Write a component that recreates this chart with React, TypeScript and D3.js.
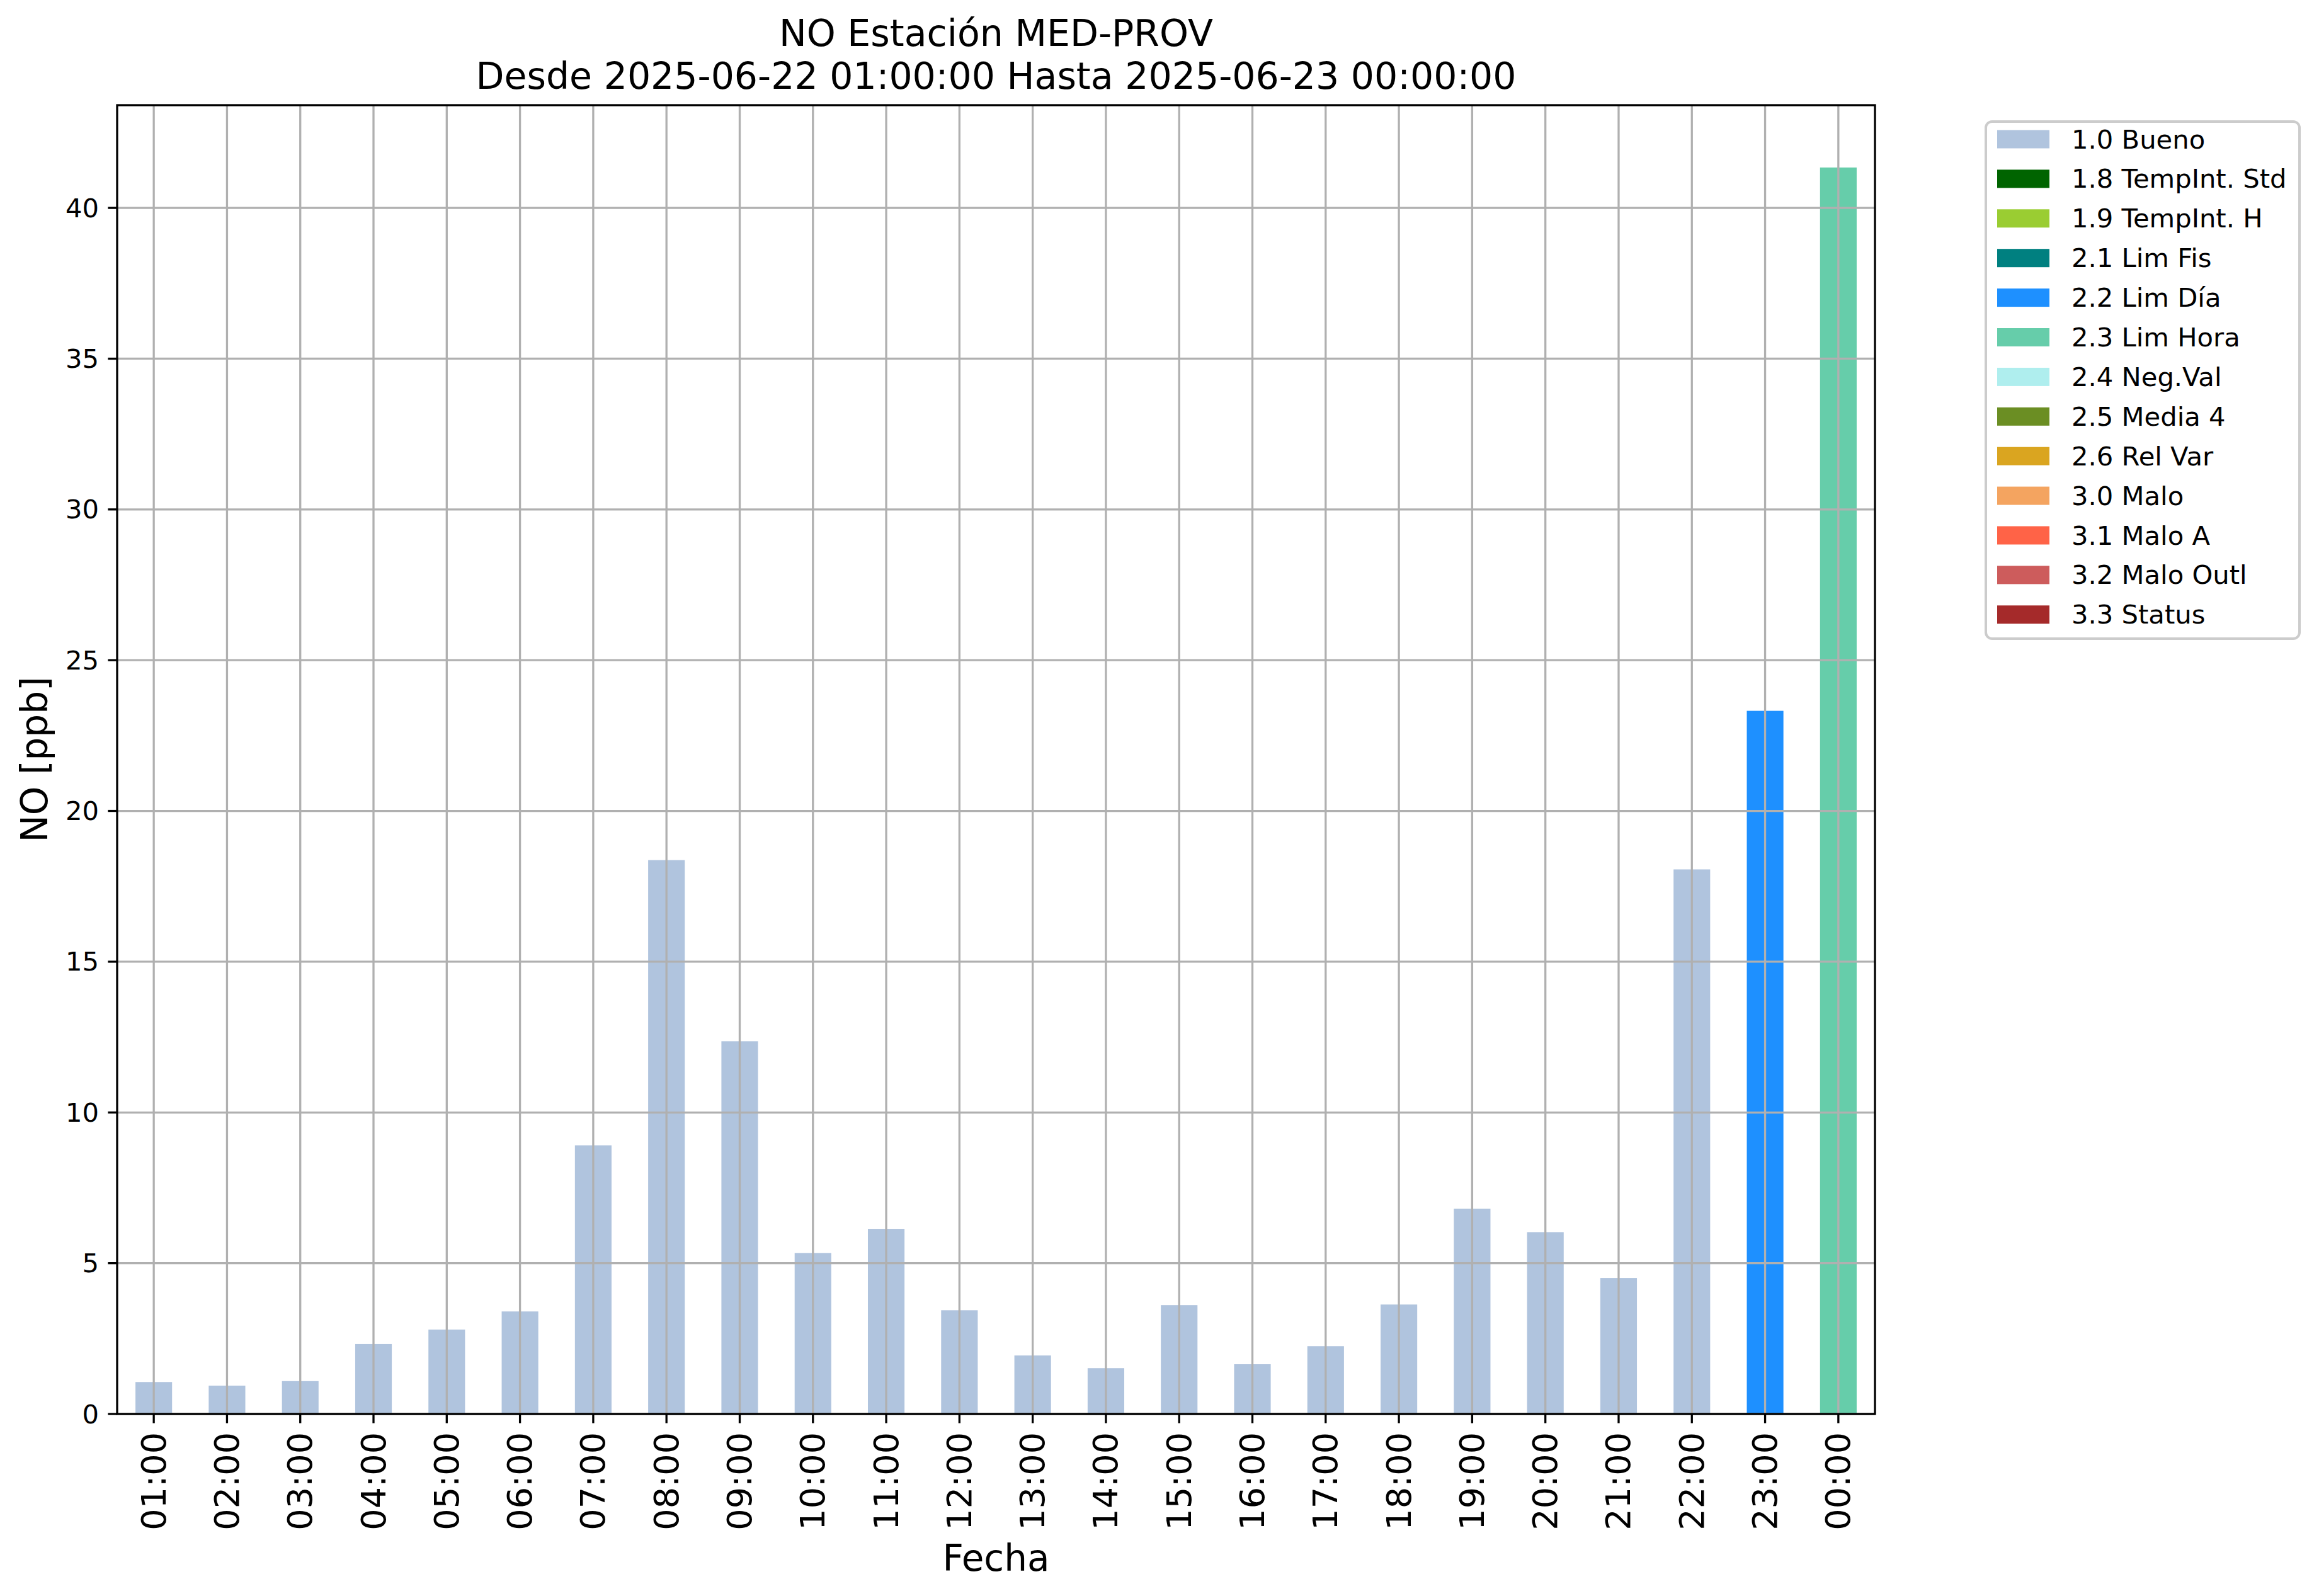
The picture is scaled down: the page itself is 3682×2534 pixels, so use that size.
import React from "react";
import * as d3 from "d3";

const hours = ["01:00","02:00","03:00","04:00","05:00","06:00","07:00","08:00","09:00","10:00","11:00","12:00","13:00","14:00","15:00","16:00","17:00","18:00","19:00","20:00","21:00","22:00","23:00","00:00"];
const values = [1.06,0.94,1.09,2.32,2.80,3.40,8.91,18.37,12.36,5.34,6.14,3.44,1.94,1.52,3.61,1.65,2.25,3.63,6.81,6.03,4.51,18.06,23.32,41.34];
const flags = ["1.0","1.0","1.0","1.0","1.0","1.0","1.0","1.0","1.0","1.0","1.0","1.0","1.0","1.0","1.0","1.0","1.0","1.0","1.0","1.0","1.0","1.0","2.2","2.3"];
const legendCodes = ["1.0","1.8","1.9","2.1","2.2","2.3","2.4","2.5","2.6","3.0","3.1","3.2","3.3"];
const legendNames = ["1.0 Bueno","1.8 TempInt. Std","1.9 TempInt. H","2.1 Lim Fis","2.2 Lim Día","2.3 Lim Hora","2.4 Neg.Val","2.5 Media 4","2.6 Rel Var","3.0 Malo","3.1 Malo A","3.2 Malo Outl","3.3 Status"];
const legendColors = ["#b0c4de","#006400","#9acd32","#008080","#1e90ff","#66cdaa","#afeeee","#6b8e23","#daa520","#f4a460","#ff6347","#cd5c5c","#a52a2a"];
const yTicks = [0,5,10,15,20,25,30,35,40];
const titleLines = ["NO Estación MED-PROV","Desde 2025-06-22 01:00:00 Hasta 2025-06-23 00:00:00"];
const yLabel = "NO [ppb]";
const xLabel = "Fecha";

const W = 3682, H = 2534;
const L = 186, R = 2977, T = 167, B = 2245;
const FONT = "DejaVu Sans";
const GRID = "#b0b0b0";
const LW = 3.3;

export default function App() {
  const x = d3.scaleBand<string>().domain(hours).range([L, R]).paddingInner(0).paddingOuter(0);
  const yMax = d3.max(values)! * 1.05;
  const y = d3.scaleLinear().domain([0, yMax]).range([B, T]);
  const colorOf = d3.scaleOrdinal<string, string>().domain(legendCodes).range(legendColors);
  const bw = x.bandwidth();
  const cx = (h: string) => x(h)! + bw / 2;

  const legX = 3153, legY = 193, legW = 498, legH = 821;
  const entry0 = 221, entryStep = 62.9;

  return (
    <svg width={W} height={H} viewBox={`0 0 ${W} ${H}`} style={{ position: "absolute", left: 0, top: 0, background: "#fff" }} fontFamily={FONT}>
      <rect x={0} y={0} width={W} height={H} fill="#fff" />
      {values.map((v, i) => (
        <rect key={"b" + i} x={cx(hours[i]) - bw / 4} width={bw / 2} y={y(v)} height={B - y(v)} fill={colorOf(flags[i])} />
      ))}
      {hours.map((h) => (
        <line key={"gx" + h} x1={cx(h)} x2={cx(h)} y1={T} y2={B} stroke={GRID} strokeWidth={LW} />
      ))}
      {yTicks.map((t) => (
        <line key={"gy" + t} x1={L} x2={R} y1={y(t)} y2={y(t)} stroke={GRID} strokeWidth={LW} />
      ))}
      <rect x={L} y={T} width={R - L} height={B - T} fill="none" stroke="#000" strokeWidth={LW} />
      {yTicks.map((t) => (
        <g key={"yt" + t}>
          <line x1={L - 14.6} x2={L} y1={y(t)} y2={y(t)} stroke="#000" strokeWidth={LW} />
          <text x={L - 29} y={y(t)} textAnchor="end" dominantBaseline="central" fontSize={41.7} fill="#000">{t}</text>
        </g>
      ))}
      {hours.map((h) => (
        <g key={"xt" + h}>
          <line x1={cx(h)} x2={cx(h)} y1={B} y2={B + 14.6} stroke="#000" strokeWidth={LW} />
          <text transform={`translate(${cx(h)},${B + 29}) rotate(-90)`} textAnchor="end" dominantBaseline="central" fontSize={54} fill="#000">{h}</text>
        </g>
      ))}
      <text x={(L + R) / 2} y={2494} textAnchor="middle" fontSize={58} fill="#000">{xLabel}</text>
      <text transform={`translate(75,${(T + B) / 2}) rotate(-90)`} textAnchor="middle" fontSize={58} fill="#000">{yLabel}</text>
      {titleLines.map((s, i) => (
        <text key={"t" + i} x={(L + R) / 2} y={73 + i * 68} textAnchor="middle" fontSize={58.5} fill="#000">{s}</text>
      ))}
      <rect x={legX} y={legY} width={legW} height={legH} rx={10} ry={10} fill="#fff" stroke="#cccccc" strokeWidth={4} />
      {legendNames.map((n, i) => (
        <g key={"l" + i}>
          <rect x={3171} y={entry0 + i * entryStep - 14.5} width={83} height={29} fill={legendColors[i]} />
          <text x={3289} y={entry0 + i * entryStep} dominantBaseline="central" fontSize={41.7} fill="#000">{n}</text>
        </g>
      ))}
    </svg>
  );
}
